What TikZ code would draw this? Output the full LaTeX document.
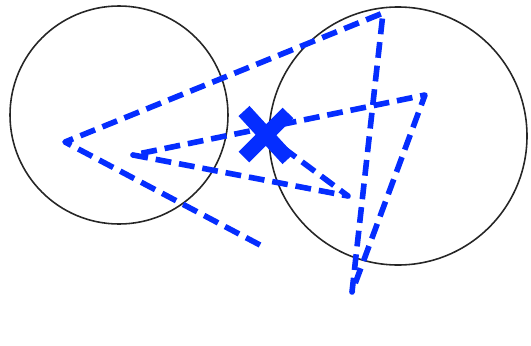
\documentclass[tikz,border=0pt]{standalone}
\usepackage{tikz}
\usetikzlibrary{calc}
\definecolor{pathblue}{RGB}{5,45,255}

\begin{document}
\begin{tikzpicture}[x=0.02cm,y=-0.02cm]
        % 1 unit = 1 px of the 531x345 picture, y going down
        \useasboundingbox (0,0) rectangle (531,345);

        % circles
        \coordinate (L) at (119,115);
        \coordinate (R) at (398,136);
        \draw[line width=0.9pt, black!85] (L) circle (109);
        \draw[line width=0.9pt, black!85] (R) circle (129);

        % turning points of the path
        \coordinate (S) at (260,245);
        \coordinate (A) at (65,142);
        \coordinate (B) at (383,13);
        \coordinate (C) at (352,292);
        \coordinate (D) at (425,95);
        \coordinate (E) at (133,155);
        \coordinate (F) at (348,196);
        \coordinate (X) at (266,135);

        \draw[pathblue, line width=3.2pt, dash pattern=on 9pt off 4.5pt, line join=round]
            (S) -- (A) -- (B) -- (C) -- (D) -- (E) -- (F) -- (X);

        % cross
        \draw[pathblue, line width=8.5pt]
            ($(X)+(-22,-24)$) -- ($(X)+(22,24)$)
            ($(X)+(22,-22)$) -- ($(X)+(-22,22)$);
    \end{tikzpicture}
\end{document}
